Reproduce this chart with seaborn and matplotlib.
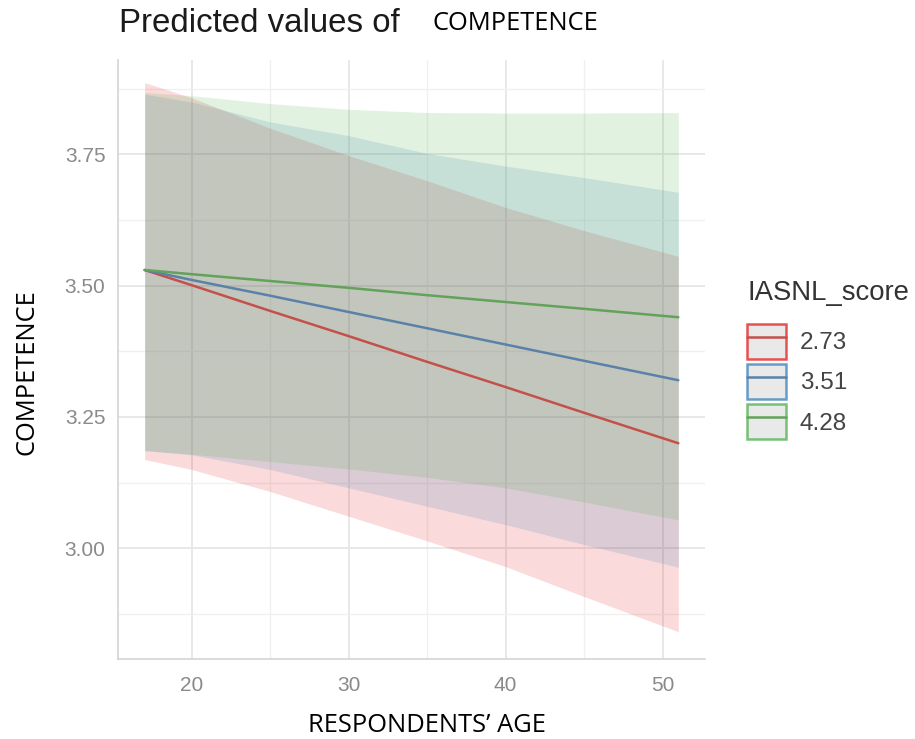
import numpy as np
import pandas as pd
import matplotlib
matplotlib.use("Agg")
import matplotlib.pyplot as plt
import seaborn as sns
from matplotlib.patches import Rectangle
from matplotlib.lines import Line2D
from matplotlib.legend_handler import HandlerTuple

# ---- data ----
ages = [17, 20, 25, 30, 35, 40, 45, 51]
groups = ["2.73", "3.51", "4.28"]

pred_273 = [3.530, 3.501, 3.452, 3.404, 3.355, 3.307, 3.258, 3.200]
pred_351 = [3.530, 3.511, 3.481, 3.450, 3.419, 3.388, 3.357, 3.320]
pred_428 = [3.530, 3.522, 3.509, 3.496, 3.482, 3.469, 3.456, 3.440]

low_273 = [3.169, 3.150, 3.108, 3.061, 3.014, 2.965, 2.908, 2.841]
high_273 = [3.887, 3.858, 3.800, 3.748, 3.700, 3.649, 3.605, 3.556]
low_351 = [3.186, 3.178, 3.150, 3.115, 3.080, 3.045, 3.007, 2.964]
high_351 = [3.865, 3.850, 3.812, 3.786, 3.752, 3.728, 3.706, 3.678]
low_428 = [3.186, 3.179, 3.165, 3.151, 3.135, 3.115, 3.088, 3.054]
high_428 = [3.868, 3.862, 3.847, 3.836, 3.830, 3.829, 3.829, 3.830]

x_ticks = [20, 30, 40, 50]
y_ticks = [3.00, 3.25, 3.50, 3.75]

fill_colors = ["#E41A1C", "#377EB8", "#4DAF4A"]
line_colors = ["#C4504A", "#5A82A8", "#62A25A"]

preds = [pred_273, pred_351, pred_428]
lows = [low_273, low_351, low_428]
highs = [high_273, high_351, high_428]

df = pd.DataFrame({
    "age": ages * 3,
    "value": pred_273 + pred_351 + pred_428,
    "IASNL_score": [g for g in groups for _ in ages],
})

sns.set_style("white")
plt.rcParams["font.family"] = ["Liberation Sans", "DejaVu Sans"]

fig = plt.figure(figsize=(9.15, 7.39), dpi=100)
ax = fig.add_axes([118 / 915, 1 - 659 / 739, (705 - 118) / 915, (659 - 60) / 739])

for lo, hi, c in zip(lows, highs, fill_colors):
    ax.fill_between(ages, lo, hi, color=c, alpha=0.16, linewidth=0, zorder=2)

sns.lineplot(data=df, x="age", y="value", hue="IASNL_score",
             palette=dict(zip(groups, line_colors)), linewidth=1.8,
             ax=ax, legend=False, zorder=3)

ax.set_xlim(15.3, 52.7)
ax.set_ylim(2.789, 3.930)
ax.set_xticks(x_ticks)
ax.set_yticks(y_ticks)
ax.set_yticklabels([f"{v:.2f}" for v in y_ticks])
ax.set_xticks([25, 35, 45], minor=True)
ax.set_yticks([2.875, 3.125, 3.375, 3.625, 3.875], minor=True)
ax.grid(True, which="major", color="#e6e6e6", linewidth=1.3, zorder=0)
ax.grid(True, which="minor", color="#f0f0f0", linewidth=1.0, zorder=0)
ax.set_axisbelow(True)
ax.tick_params(axis="both", which="both", length=0, labelsize=15,
               labelcolor="#8a8a8a")
ax.tick_params(axis="x", pad=12)
ax.tick_params(axis="y", pad=9)
for s in ["top", "right"]:
    ax.spines[s].set_visible(False)
for s in ["left", "bottom"]:
    ax.spines[s].set_color("#d4d4d4")
    ax.spines[s].set_linewidth(1.2)

ax.set_xlabel("")
ax.set_ylabel("")
fig.text(427 / 915, 1 - 725 / 739, "RESPONDENTS\u2019 AGE", ha="center", va="center",
         fontsize=18.4, family=["Open Sans", "DejaVu Sans"], color="black")
fig.text(27 / 915, 1 - 372 / 739, "COMPETENCE", ha="center", va="center",
         rotation=90, fontsize=18.4, family=["Open Sans", "DejaVu Sans"], color="black")

fig.text(119 / 915, 1 - 23 / 739, "Predicted values of", ha="left", va="center",
         fontsize=23.8, color="#1a1a1a")
fig.text(433 / 915, 1 - 24 / 739, "COMPETENCE", ha="left", va="center",
         fontsize=18.4, family=["Open Sans", "DejaVu Sans"], color="black")

handles = []
for fc, lc in zip(fill_colors, line_colors):
    box = Rectangle((0, 0), 1, 1, facecolor="#e2e2e2", edgecolor=fc,
                    linewidth=1.8, alpha=0.75)
    ln = Line2D([0], [0], color=lc, linewidth=1.8)
    handles.append((box, ln))

leg = fig.legend(handles, groups, title="IASNL_score",
                 handler_map={tuple: HandlerTuple(ndivide=1)},
                 loc="upper left", bbox_to_anchor=(747 / 915, 1 - 280 / 739),
                 frameon=False, fontsize=17.5, title_fontsize=19.8,
                 handlelength=1.62, handleheight=1.85, labelspacing=0.2,
                 handletextpad=0.55, borderaxespad=0, borderpad=0)
leg._legend_box.align = "left"
leg._legend_box.sep = 13
leg.get_title().set_color("#333333")
for t in leg.get_texts():
    t.set_color("#444444")

fig.savefig("out.png", dpi=100)
